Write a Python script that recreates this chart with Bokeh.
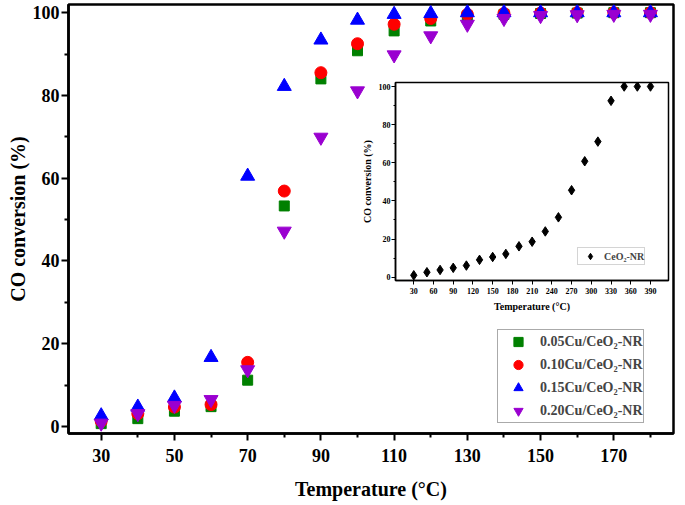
import numpy as np
from bokeh.plotting import figure
from bokeh.models import FixedTicker, Legend, LegendItem, GridBox, Range1d
from bokeh.embed import file_html
from bokeh.resources import INLINE

# ---- main chart data ----
temps = [30, 40, 50, 60, 70, 80, 90, 100, 110, 120, 130, 140, 150, 160, 170, 180]
cu005 = [0.7, 1.9, 3.7, 4.8, 11.2, 53.3, 84.0, 90.8, 95.6, 98.0, 99.2, 99.6, 99.8, 99.9, 100.0, 100.0]
cu010 = [1.3, 3.1, 4.7, 5.3, 15.5, 56.9, 85.5, 92.5, 97.2, 98.6, 99.6, 99.8, 99.9, 100.0, 100.0, 100.0]
cu015 = [2.6, 4.7, 6.9, 16.7, 60.5, 82.2, 93.4, 98.2, 99.6, 99.8, 100.0, 100.0, 100.0, 100.0, 100.0, 100.0]
cu020 = [0.8, 3.1, 5.1, 6.5, 13.7, 47.2, 69.9, 81.1, 89.8, 94.4, 97.2, 98.6, 99.3, 99.5, 99.6, 99.6]
series_labels = ["0.05Cu/CeO\u2082-NR", "0.10Cu/CeO\u2082-NR", "0.15Cu/CeO\u2082-NR", "0.20Cu/CeO\u2082-NR"]
x_major = [30, 50, 70, 90, 110, 130, 150, 170]
x_minor = [40, 60, 80, 100, 120, 140, 160, 180]
y_major = [0, 20, 40, 60, 80, 100]
y_minor = [10, 30, 50, 70, 90]

# ---- inset data ----
inset_temps = [30, 50, 70, 90, 110, 130, 150, 170, 190, 210, 230, 250, 270, 290, 310, 330, 350, 370, 390]
ceo2 = [1.0, 2.6, 3.8, 4.9, 6.1, 9.1, 10.6, 12.2, 16.2, 18.6, 24.0, 31.4, 45.6, 60.8, 71.1, 92.5, 100.0, 100.0, 100.0]
inset_label = "CeO\u2082-NR"
inset_x_major = [30, 60, 90, 120, 150, 180, 210, 240, 270, 300, 330, 360, 390]
inset_y_major = [0, 20, 40, 60, 80, 100]
inset_y_minor = [10, 30, 50, 70, 90]

FONT = "Liberation Serif"

# ---------------- main figure ----------------
p = figure(width=685, height=505, x_range=Range1d(21.07, 186.3), y_range=Range1d(-1.69, 101.98),
           output_backend="svg", toolbar_location=None,
           min_border_left=68, min_border_right=12, min_border_top=4, min_border_bottom=72)
p.grid.visible = False
p.outline_line_color = "black"
p.outline_line_width = 2.5
p.background_fill_color = "white"
p.border_fill_color = "white"

for ax in (p.xaxis[0], p.yaxis[0]):
    ax.axis_line_width = 2.5
    ax.axis_line_color = "black"
    ax.major_tick_line_width = 2
    ax.minor_tick_line_width = 2
    ax.major_tick_in = 0
    ax.major_tick_out = 7
    ax.minor_tick_in = 0
    ax.minor_tick_out = 4
    ax.major_label_text_font = FONT
    ax.major_label_text_font_style = "bold"
    ax.major_label_text_font_size = "18px"
    ax.major_label_text_color = "black"
    ax.axis_label_text_font = FONT
    ax.axis_label_text_font_style = "bold"
    ax.axis_label_text_font_size = "20px"
    ax.axis_label_text_color = "black"

p.xaxis.ticker = FixedTicker(ticks=x_major, minor_ticks=x_minor)
p.yaxis.ticker = FixedTicker(ticks=y_major, minor_ticks=y_minor)
p.xaxis.axis_label = "Temperature (\u00b0C)"
p.yaxis.axis_label = "CO conversion (%)"
p.xaxis.major_label_standoff = 8
p.xaxis.axis_label_standoff = 13
p.yaxis.major_label_standoff = 2
p.yaxis.axis_label_standoff = 1

r1 = p.scatter(temps, cu005, marker="square", size=10, color="#008000")
r2 = p.scatter(temps, cu010, marker="circle", size=12, color="#FF0000")
r3 = p.scatter(temps, cu015, marker="triangle", size=14, color="#0000FF")
r4 = p.scatter(temps, cu020, marker="inverted_triangle", size=14, color="#9A00D0")

legend = Legend(items=[LegendItem(label=lab, renderers=[r]) for lab, r in
                       zip(series_labels, [r1, r2, r3, r4])],
                location=(429, 10), glyph_width=40, glyph_height=23, label_height=23,
                spacing=0, padding=0, margin=0, label_standoff=2,
                label_text_font=FONT, label_text_font_style="bold", label_text_font_size="14px",
                border_line_color="#555555", border_line_width=1.5,
                background_fill_color="white", background_fill_alpha=1)
p.add_layout(legend)

# ---------------- inset figure ----------------
q = figure(width=319, height=240, x_range=Range1d(2.2, 417.4), y_range=Range1d(-1.73, 102.1),
           output_backend="svg", toolbar_location=None,
           min_border_left=43, min_border_right=3, min_border_top=8, min_border_bottom=34)
q.grid.visible = False
q.outline_line_color = "black"
q.outline_line_width = 1.5
q.background_fill_color = "white"
q.border_fill_alpha = 0

for ax in (q.xaxis[0], q.yaxis[0]):
    ax.axis_line_width = 1.5
    ax.axis_line_color = "black"
    ax.major_tick_line_width = 1
    ax.minor_tick_line_width = 1
    ax.major_tick_in = 0
    ax.major_tick_out = 4
    ax.minor_tick_in = 0
    ax.minor_tick_out = 2
    ax.major_label_text_font = FONT
    ax.major_label_text_font_style = "bold"
    ax.major_label_text_font_size = "8px"
    ax.major_label_text_color = "black"
    ax.axis_label_text_font = FONT
    ax.axis_label_text_font_style = "bold"
    ax.axis_label_text_font_size = "10px"
    ax.axis_label_text_color = "black"

q.xaxis.ticker = FixedTicker(ticks=inset_x_major)
q.yaxis.ticker = FixedTicker(ticks=inset_y_major, minor_ticks=inset_y_minor)
q.xaxis.axis_label = "Temperature (\u00b0C)"
q.yaxis.axis_label = "CO conversion (%)"
q.xaxis.major_label_standoff = 3
q.xaxis.axis_label_standoff = 4
q.yaxis.major_label_standoff = 1
q.yaxis.axis_label_standoff = 3

ri = q.scatter(inset_temps, ceo2, marker="diamond", size=9.5, color="black")
ilegend = Legend(items=[LegendItem(label=inset_label, renderers=[ri])],
                 location=(182, 15), glyph_width=24, glyph_height=16, label_height=16,
                 padding=0, margin=0, label_standoff=2, spacing=0,
                 label_text_font=FONT, label_text_font_style="bold", label_text_font_size="10px",
                 border_line_color="#AAAAAA", border_line_width=1,
                 background_fill_color="white", background_fill_alpha=1)
q.add_layout(ilegend)

grid = GridBox(children=[(p, 0, 0, 3, 3), (q, 1, 1, 1, 1)],
               rows=["74px", "240px", "191px"], cols=["352px", "319px", "14px"], spacing=0)

open("out.html", "w").write(file_html(grid, INLINE))
